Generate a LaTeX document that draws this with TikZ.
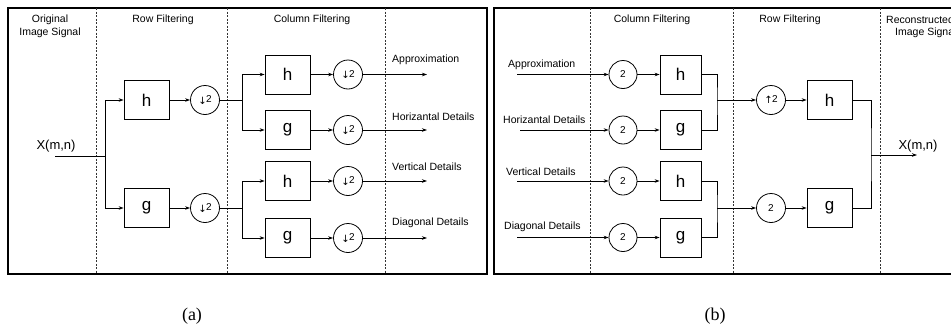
\documentclass[tikz,border=0pt]{standalone}
\usepackage{fontspec}
\setmainfont{Liberation Sans}
\newfontfamily\arrowfont{DejaVu Sans}
\newfontfamily\capfont{Liberation Serif}
\usetikzlibrary{arrows.meta}
\newcommand{\dnt}{{\arrowfont\fontsize{10}{10}\selectfont\raisebox{-1.5pt}{↓}}\kern-0.5pt 2}
\newcommand{\upt}{{\arrowfont\fontsize{10}{10}\selectfont\raisebox{-1pt}{↑}}\kern-0.5pt 2}
\begin{document}
\begin{tikzpicture}[x=1pt,y=-1pt,
  box/.style={draw, line width=0.8pt, minimum width=45pt, minimum height=39pt, inner sep=0pt, font=\fontsize{17}{17}\selectfont},
  cbox/.style={box, minimum width=41pt},
  circ/.style={draw, circle, line width=0.8pt, minimum size=29pt, inner sep=0pt, font=\fontsize{10}{10}\selectfont},
  bcirc/.style={circ, minimum size=28pt},
  arr/.style={-{Stealth[length=5pt,width=3.5pt]}, line width=0.7pt},
  ln/.style={line width=0.7pt},
  sep/.style={dash pattern=on 2pt off 1.5pt, line width=0.5pt, black!80},
  hdr/.style={font=\fontsize{10.5}{12}\selectfont, inner sep=0pt},
  sig/.style={font=\fontsize{13}{14}\selectfont, inner sep=0pt},
  frm/.style={line width=2.2pt},
  captext/.style={font=\capfont\fontsize{18}{20}\selectfont, inner sep=0pt}
]
\path[use as bounding box] (0,0) rectangle (951,327);
\clip (0,0) rectangle (951,327);

% ---------- frames ----------
\draw[frm] (8,8) rectangle (487,274);
\draw[frm] (494,8) rectangle (968,274);

% ---------- separators ----------
\foreach \xx in {96,227,385,590,733,880}
  \draw[sep] (\xx,8) -- (\xx,274);

% ---------- headers (a) ----------
\node[hdr] (ha1) at (50,20) {Original};
\node[hdr] (ha2) at (50,33) {Image Signal};
\node[hdr] (ha3) at (163,20) {Row Filtering};
\node[hdr] (ha4) at (312,20) {Column Filtering};
% ---------- headers (b) ----------
\node[hdr] (hb1) at (652,20) {Column Filtering};
\node[hdr] (hb2) at (790,20) {Row Filtering};
\node[hdr,anchor=west] (hb3) at (886,20) {Reconstructed};
\node[hdr,anchor=west] (hb4) at (895,33) {Image Signal};

% ---------- panel (a) ----------
\node[sig] (axl) at (56,146) {X(m,n)};
\coordinate (ain) at (55,156);
\coordinate (abr) at (105,156);
\node[box] (ah1) at (146.5,100) {h};
\node[box] (ag1) at (146.5,208) {g};
\node[circ] (ad1) at (205,100) {\dnt};
\node[circ] (ad2) at (205,208) {\dnt};
\draw[ln] (ain) -- (abr);
\draw[arr] (abr) |- (ah1.west);
\draw[arr] (abr) |- (ag1.west);
\draw[arr] (ah1) -- (ad1);
\draw[arr] (ag1) -- (ad2);

\coordinate (ab1) at (242,100);
\coordinate (ab2) at (242,208);
\node[box] (ach1) at (287.5,74.5) {h};
\node[box] (acg1) at (287.5,130) {g};
\node[box] (ach2) at (287.5,181) {h};
\node[box] (acg2) at (287.5,238) {g};
\draw[ln] (ad1) -- (ab1);
\draw[ln] (ad2) -- (ab2);
\draw[arr] (ab1) |- (ach1.west);
\draw[arr] (ab1) |- (acg1.west);
\draw[arr] (ab2) |- (ach2.west);
\draw[arr] (ab2) |- (acg2.west);

\node[circ] (acd1) at (348,74.5) {\dnt};
\node[circ] (acd2) at (348,130) {\dnt};
\node[circ] (acd3) at (348,181) {\dnt};
\node[circ] (acd4) at (348,238) {\dnt};
\draw[arr] (ach1) -- (acd1);
\draw[arr] (acg1) -- (acd2);
\draw[arr] (ach2) -- (acd3);
\draw[arr] (acg2) -- (acd4);

\coordinate (ao1) at (427,74.5);
\coordinate (ao2) at (427,130);
\coordinate (ao3) at (427,181);
\coordinate (ao4) at (427,238);
\draw[arr] (acd1) -- (ao1);
\draw[arr] (acd2) -- (ao2);
\draw[arr] (acd3) -- (ao3);
\draw[arr] (acd4) -- (ao4);

\node[hdr,anchor=west] (al1) at (392,60) {Approximation};
\node[hdr,anchor=west] (al2) at (392,117) {Horizantal Details};
\node[hdr,anchor=west] (al3) at (392,167) {Vertical Details};
\node[hdr,anchor=west] (al4) at (392,223) {Diagonal Details};

% ---------- panel (b) ----------
\node[hdr,anchor=west] (bl1) at (508,65) {Approximation};
\node[hdr,anchor=west] (bl2) at (503,120) {Horizantal Details};
\node[hdr,anchor=west] (bl3) at (506,172) {Vertical Details};
\node[hdr,anchor=west] (bl4) at (504,227) {Diagonal Details};
\coordinate (bi1) at (517,74.5);
\coordinate (bi2) at (520,130);
\coordinate (bi3) at (517,181);
\coordinate (bi4) at (517,237.5);
\node[bcirc] (bu1) at (623,74.5) {2};
\node[bcirc] (bu2) at (623,130) {2};
\node[bcirc] (bu3) at (623,181) {2};
\node[bcirc] (bu4) at (623,237.5) {2};
\draw[arr] (bi1) -- (bu1);
\draw[arr] (bi2) -- (bu2);
\draw[arr] (bi3) -- (bu3);
\draw[arr] (bi4) -- (bu4);

\node[cbox] (bch1) at (680.5,74.5) {h};
\node[cbox] (bcg1) at (680.5,130) {g};
\node[cbox] (bch2) at (680.5,181) {h};
\node[cbox] (bcg2) at (680.5,237.5) {g};
\draw[arr] (bu1) -- (bch1);
\draw[arr] (bu2) -- (bcg1);
\draw[arr] (bu3) -- (bch2);
\draw[arr] (bu4) -- (bcg2);

\coordinate (bj1) at (717,100);
\coordinate (bj2) at (717,208);
\draw[ln] (bch1.east) -| (bj1) |- (bcg1.east);
\draw[ln] (bch2.east) -| (bj2) |- (bcg2.east);

\node[circ] (bup1) at (771,100) {\upt};
\node[circ] (bup2) at (771,208) {2};
\draw[arr] (bj1) -- (bup1);
\draw[arr] (bj2) -- (bup2);

\node[box] (brh) at (829.5,100) {h};
\node[box] (brg) at (829.5,208) {g};
\draw[arr] (bup1) -- (brh);
\draw[arr] (bup2) -- (brg);

\coordinate (bjo) at (871,155);
\coordinate (bout) at (917,155);
\draw[ln] (brh.east) -| (bjo) |- (brg.east);
\draw[arr] (bjo) -- (bout);
\node[sig] (bxl) at (918,146) {X(m,n)};

% ---------- captions ----------
\node[captext] (capa) at (192,316) {(a)};
\node[captext] (capb) at (715,316) {(b)};
\end{tikzpicture}
\end{document}
